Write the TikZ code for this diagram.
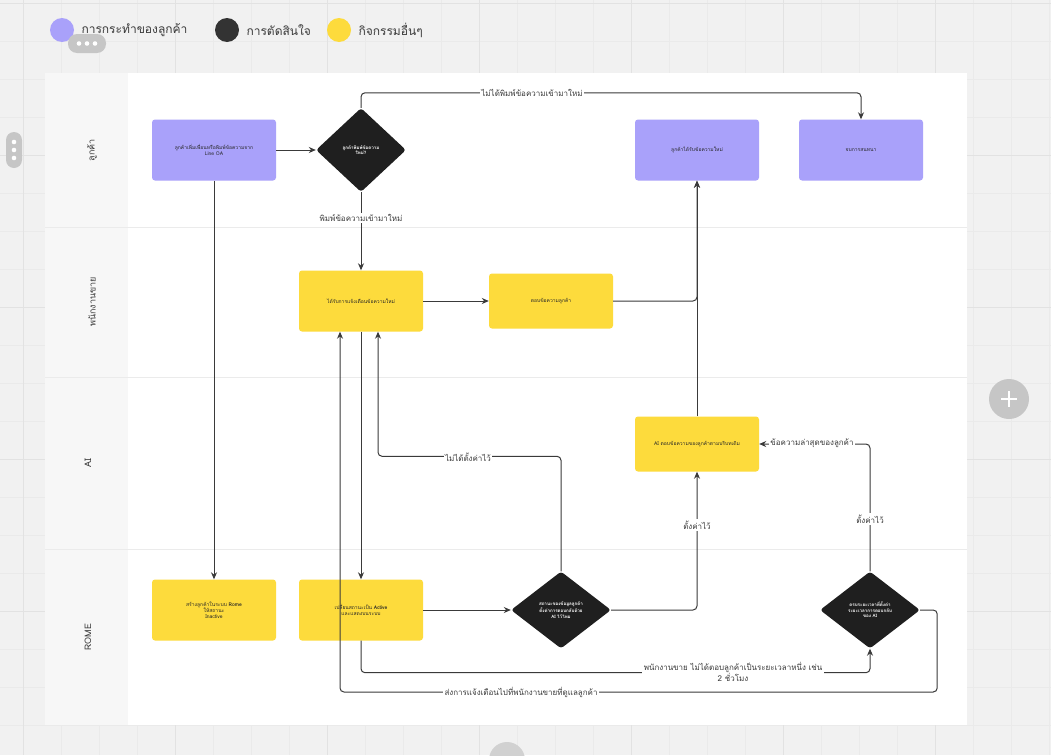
\documentclass[tikz,border=0pt]{standalone}
\usepackage{fontspec}
\setmainfont{Loma}[Script=Thai]
\usetikzlibrary{shapes.geometric,arrows.meta}
\definecolor{canvas}{HTML}{F1F1F1}
\definecolor{gridline}{HTML}{EAEAEA}
\definecolor{gridmajor}{HTML}{E2E2E2}
\definecolor{laneline}{HTML}{EBEBEB}
\definecolor{lanebg}{HTML}{F7F7F7}
\definecolor{custpurple}{HTML}{A9A1FA}
\definecolor{actyellow}{HTML}{FDDB3C}
\definecolor{decblack}{HTML}{1F1F1F}
\definecolor{keyblack}{HTML}{333333}
\definecolor{inkgray}{HTML}{3A3A3A}
\definecolor{uigray}{HTML}{C6C6C6}

\begin{document}
\begin{tikzpicture}[x=1pt,y=-1pt,
  box/.style={rounded corners=3pt,minimum width=124pt,minimum height=61pt,inner sep=2pt,align=center,font=\fontsize{5}{6}\selectfont,text=black!85},
  cust/.style={box,fill=custpurple},
  task/.style={box,fill=actyellow},
  choice/.style={diamond,fill=decblack,text=white,rounded corners=3pt,minimum width=100pt,minimum height=77pt,inner sep=0pt,align=center,font=\fontsize{4.5}{5.5}\selectfont\bfseries},
  flow/.style={draw=inkgray,line width=1pt,rounded corners=4pt,-{Stealth[length=7pt,width=6pt]}},
  lbl/.style={fill=white,inner sep=1.5pt,text=inkgray,font=\fontsize{8}{10}\selectfont,align=center},
  lane/.style={rotate=90,text=inkgray,font=\fontsize{9}{11}\selectfont},
  key/.style={anchor=west,text=inkgray,font=\fontsize{12}{14}\selectfont}
]
\useasboundingbox (0,0) rectangle (1051,755);
\fill[canvas] (0,0) rectangle (1051,755);
\foreach \k in {0,...,28}{\draw[gridline] ({-15+38*\k},0) -- ++(0,755);}
\foreach \k in {0,...,20}{\draw[gridline] (0,{3+38*\k}) -- ++(1051,0);}
\foreach \k in {0,...,6}{\draw[gridmajor,line width=0.8pt] ({23+152*\k},0) -- ++(0,755);}
\foreach \k in {0,...,4}{\draw[gridmajor,line width=0.8pt] (0,{3+152*\k}) -- ++(1051,0);}

% legend
\fill[custpurple] (62,30) circle (12);
\node[key] (keycust) at (78,30) {การกระทำของลูกค้า};
\fill[keyblack] (227,30) circle (12);
\node[key] (keydec) at (243,30) {การตัดสินใจ};
\fill[actyellow] (339,30) circle (12);
\node[key] (keytask) at (355,30) {กิจกรรมอื่นๆ};

% swimlanes
\fill[lanebg] (45,73) rectangle (967,725);
\fill[white] (128,73) rectangle (967,725);
\foreach \y in {227,377,549}{\draw[laneline] (45,\y) -- (967,\y);}
\node[lane] (lanecust) at (92,150) {ลูกค้า};
\node[lane] (lanesales) at (92,302) {พนักงานขาย};
\node[lane] (laneai) at (88,463) {AI};
\node[lane] (lanerome) at (88,637) {ROME};

% nodes
\node[cust] (cadd) at (214,150) {ลูกค้าเพิ่มเพื่อนหรือพิมพ์ข้อความจาก\\Line OA};
\node[choice,minimum width=90pt,minimum height=84pt] (dnew) at (361,150) {ลูกค้าพิมพ์ข้อความ\\ใหม่?};
\node[cust] (crecv) at (697,150) {ลูกค้าได้รับข้อความใหม่};
\node[cust] (endc) at (861,150) {จบการสนทนา};
\node[task] (snotify) at (361,301) {ได้รับการแจ้งเตือนข้อความใหม่};
\node[task,minimum height=55pt] (sreply) at (551,301) {ตอบข้อความลูกค้า};
\node[task,minimum height=55pt] (aireply) at (697,444) {AI ตอบข้อความของลูกค้าตามบริบทเดิม};
\node[task] (rcreate) at (214,610) {สร้างลูกค้าในระบบ \textbf{Rome}\\ให้สถานะ\\Inactive};
\node[task] (sactive) at (361,610) {เปลี่ยนสถานะเป็น \textbf{Active}\\และแสดงบนระบบ};
\node[choice] (dai) at (561,610) {สถานะของข้อมูลลูกค้า\\ตั้งค่าการตอบกลับด้วย\\AI ไว้ไหม};
\node[choice] (dtime) at (870,610) {ครบระยะเวลาที่ตั้งค่า\\ระยะเวลาการตอบกลับ\\ของ AI};

% connectors
\draw[flow] (cadd) -- (dnew);
\draw[flow] (dnew.north) -- ++(0,-15) -| (endc.north);
\draw[flow] (dnew.south) -- (snotify.north);
\draw[flow] (cadd.south) -- (rcreate.north);
\draw[flow] (snotify) -- (sreply);
\draw[flow] (sreply.east) -| (crecv.south);
\draw[flow] (aireply.north) -- (crecv.south);
\draw[flow] (snotify.south) -- (sactive.north);
\draw[flow] (sactive) -- (dai);
\draw[flow] (dai.north) -- ++(0,-115) -| ([xshift=17pt]snotify.south);
\draw[flow] (dai.east) -| (aireply.south);
\draw[flow] (dtime.north) |- (aireply.east);
\draw[flow] (sactive.south) -- ++(0,32) -| (dtime.south);
\draw[flow] (dtime.east) -- ++(17,0) -- ++(0,82) -| ([xshift=-21pt]snotify.south);

% connector labels
\node[lbl] (lnonew) at (532,93) {ไม่ได้พิมพ์ข้อความเข้ามาใหม่};
\node[lbl] (lnew) at (361,218) {พิมพ์ข้อความเข้ามาใหม่};
\node[lbl] (lnoai) at (468,457) {ไม่ได้ตั้งค่าไว้};
\node[lbl] (lai) at (697,525) {ตั้งค่าไว้};
\node[lbl] (llast) at (812,443) {ข้อความล่าสุดของลูกค้า};
\node[lbl] (ltimeai) at (870,519) {ตั้งค่าไว้};
\node[lbl] (lwait) at (733,672) {พนักงานขาย ไม่ได้ตอบลูกค้าเป็นระยะเวลาหนึ่ง เช่น\\2 ชั่วโมง};
\node[lbl] (lalert) at (521,692) {ส่งการแจ้งเตือนไปที่พนักงานขายที่ดูแลลูกค้า};

% board controls
\fill[uigray,rounded corners=9pt] (68,34) rectangle (106,53);
\foreach \k in {79,87,95}{\fill[white] (\k,43.5) circle (2.3);}
\fill[uigray,rounded corners=8pt] (6,132) rectangle (22,168);
\foreach \k in {142,150,158}{\fill[white] (14,\k) circle (2.3);}
\fill[uigray] (1009,399) circle (20);
\draw[white,line width=2pt] (1001,399) -- (1017,399) (1009,391) -- (1009,407);
\fill[uigray!80] (507,760) circle (18);
\end{tikzpicture}
\end{document}
